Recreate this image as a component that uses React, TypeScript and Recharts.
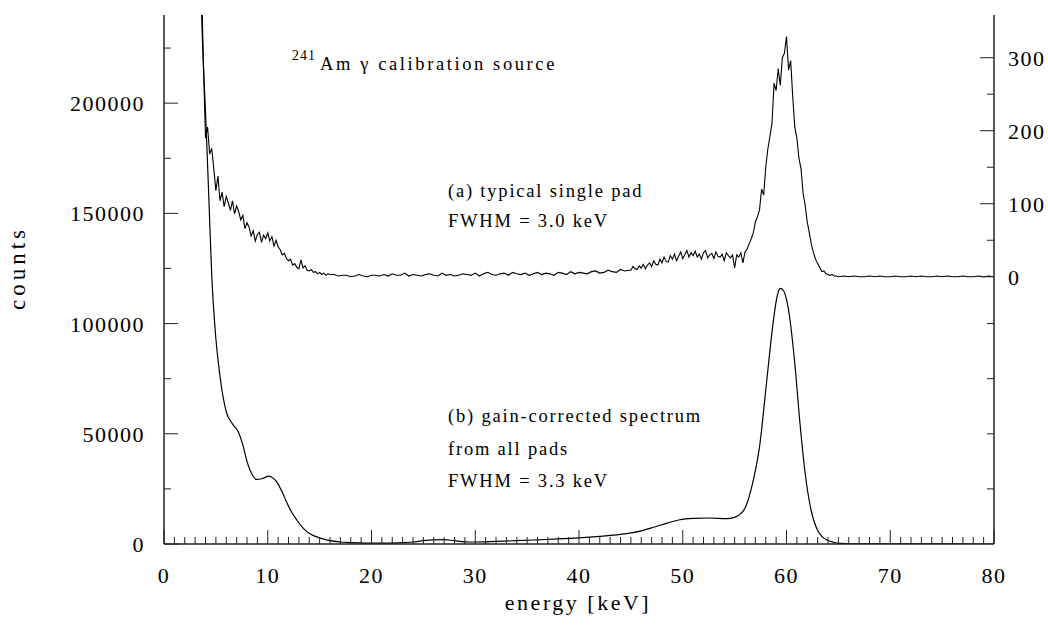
import { LineChart, Line, XAxis, YAxis } from "recharts";

const SERIF = '"Liberation Serif", "Times New Roman", serif';

// (a) typical single pad, right axis (counts per channel)
const padStart1 = 3.6;
const padStep1 = 0.2;
const padCounts1 = [
  420, 290, 190, 205, 168, 176, 148, 118, 138, 104,
  116, 96, 110, 101, 91, 104, 86, 97, 89, 78,
  84, 66, 74, 68, 56, 63, 49, 58, 61, 47,
  57, 52, 60, 49, 55, 42, 50, 41, 37, 30,
  32, 25, 22, 24, 16, 18, 13, 11, 23, 12,
  15, 9, 8, 10, 6, 7, 4, 6, 3, 5,
  2, 4, 3,
];
const padStart2 = 16.4;
const padStep2 = 0.4;
const padCounts2 = [
  3, 1, 2, 2, 0, 1, 3, 1, 0, 2,
  2, 1, 3, 1, 4, 2, 2, 5, 1, 3,
  2, 1, 3, 4, 2, 1, 5, 2, 3, 1,
  2, 4, 3, 2, 5, 1, 4, 6, 3, 2,
  4, 5, 2, 6, 4, 3, 5, 2, 4, 6,
  3, 5, 4, 2, 6, 5, 3, 7, 4, 6,
  5, 4, 7, 8, 5, 6, 9, 7, 6, 10,
  8, 9,
];
const padStart3 = 45.0;
const padStep3 = 0.2;
const padCounts3 = [
  9, 14, 11, 10, 15, 12, 17, 11, 16, 19,
  14, 22, 17, 16, 24, 19, 27, 21, 20, 29,
  24, 31, 22, 28, 34, 25, 30, 36, 27, 33,
  29, 35, 27, 31, 24, 33, 36, 26, 30, 32,
  25, 34, 28, 27, 31, 22, 33, 29, 26, 30,
  12, 30, 27, 33, 19, 34, 38, 45, 52, 60,
  75, 82, 92, 120, 112, 150, 175, 192, 210, 265,
  255, 285, 262, 300, 306, 329, 283, 296, 247, 205,
  190, 162, 148, 114, 98, 75, 60, 44, 33, 24,
  18, 13, 7, 8, 4, 3, 2, 3, 1, 1,
  0,
];
const padStart4 = 65.5;
const padStep4 = 0.5;
const padCounts4 = [
  1, 0, 1, 0, 0, 1, 0, 1, 0, 0,
  1, 0, 0, 1, 0, 1, 0, 0, 1, 0,
  1, 0, 0, 1, 0, 0, 1, 0, 1, 0,
];

// (b) gain-corrected spectrum from all pads, left axis
const sumEnergy = [
  3.3, 3.6, 4.0, 4.3, 4.6, 4.9, 5.4, 6.0, 6.6, 7.2,
  7.6, 8.0, 8.5, 8.9, 9.5, 10.1, 10.5, 10.9, 11.4, 11.8,
  12.3, 12.8, 13.3, 13.8, 14.4, 15.0, 16.0, 17.0, 18.0, 19.5,
  21.0, 22.5, 24.0, 25.0, 26.0, 27.0, 28.0, 29.0, 30.0, 32.0,
  34.0, 36.0, 38.0, 40.0, 42.0, 44.0, 45.2, 46.2, 47.2, 48.5,
  49.7, 51.0, 52.6, 54.2, 55.0, 55.6, 56.0, 56.4, 56.8, 57.4,
  58.1, 58.7, 59.1, 59.4, 59.7, 60.0, 60.3, 60.8, 61.3, 61.8,
  62.3, 62.9, 63.4, 63.9, 64.5, 65.2, 66.5, 70.0, 80.0,
];
const sumCounts = [
  320000, 245000, 196000, 160000, 122000, 99000, 76000, 60000, 54500, 50500,
  45000, 37500, 31500, 29300, 29700, 30800, 30000, 28000, 23500, 19200,
  14500, 10900, 7800, 5500, 3800, 2800, 1500, 900, 600, 400,
  400, 500, 900, 1500, 1900, 2000, 1500, 1000, 900, 1200,
  1500, 1900, 2300, 2800, 3500, 4400, 5200, 6200, 7600, 9500,
  11000, 11600, 11800, 11500, 12100, 13800, 16200, 21500, 29000, 44100,
  74300, 100000, 112500, 116000, 115000, 111000, 103000, 81900, 54700, 32000,
  16900, 7100, 3500, 1800, 800, 300, 100, 50, 0,
];

const energyTicks = Array.from({ length: 81 }, (_, i) => i);
const leftTicks = [0, 25000, 50000, 75000, 100000, 125000, 150000, 175000, 200000, 225000];
const padTicks = [0, 50, 100, 150, 200, 250, 300];
// left-axis minor ticks repeated on the right frame below the pad baseline
const mirrorTicks = [25000, 50000, 75000, 100000];

const LEFT_DOMAIN: [number, number] = [0, 240000];
const RIGHT_DOMAIN: [number, number] = [-366, 358.5];

const rightTicks = [
  ...mirrorTicks.map(
    (t) => RIGHT_DOMAIN[0] + (t / LEFT_DOMAIN[1]) * (RIGHT_DOMAIN[1] - RIGHT_DOMAIN[0])
  ),
  ...padTicks,
];

const channels = (start: number, step: number, counts: number[]) =>
  counts.map((v, i) => ({ e: +(start + i * step).toFixed(2), v }));

const padData = [
  ...channels(padStart1, padStep1, padCounts1),
  ...channels(padStart2, padStep2, padCounts2),
  ...channels(padStart3, padStep3, padCounts3),
  ...channels(padStart4, padStep4, padCounts4),
];
const sumData = sumEnergy.map((e, i) => ({ e, v: sumCounts[i] }));

const INK = "#000";
const AXIS = "#222";
const labelStyle = { fontFamily: SERIF, fontSize: 22, fill: INK, letterSpacing: 1.5 };

const BottomTick = ({ x, y, payload }: any) => {
  const major = payload.value % 10 === 0;
  return (
    <g>
      <line x1={x} x2={x} y1={y} y2={y - (major ? 14 : 7)} stroke={AXIS} />
      {major && (
        <text x={x} y={y + 39} textAnchor="middle" {...labelStyle}>
          {payload.value}
        </text>
      )}
    </g>
  );
};

const TopTick = ({ x, y, payload }: any) => {
  const major = payload.value % 10 === 0;
  return <line x1={x} x2={x} y1={y} y2={y + (major ? 14 : 7)} stroke={AXIS} />;
};

const LeftTick = ({ x, y, payload }: any) => {
  const major = payload.value % 50000 === 0;
  return (
    <g>
      <line x1={x} x2={x + (major ? 14 : 7)} y1={y} y2={y} stroke={AXIS} />
      {major && (
        <text x={x - 19} y={y + 8} textAnchor="end" {...labelStyle}>
          {payload.value}
        </text>
      )}
    </g>
  );
};

const RightTick = ({ x, y, payload }: any) => {
  if (payload.value < 0) {
    return <line x1={x} x2={x - 7} y1={y} y2={y} stroke={AXIS} />;
  }
  const major = payload.value % 100 === 0;
  return (
    <g>
      <line x1={x} x2={x - (major ? 14 : 7)} y1={y} y2={y} stroke={AXIS} />
      {major && (
        <text x={x + 14} y={y + 8} textAnchor="start" {...labelStyle}>
          {payload.value}
        </text>
      )}
    </g>
  );
};

const noteStyle = { fontFamily: SERIF, fontSize: 18.5, fill: INK, letterSpacing: 1.8 };

export default function App() {
  return (
    <div style={{ position: "absolute", left: 0, top: 0, width: 1048, height: 630, background: "#fff" }}>
      <LineChart width={1048} height={630} margin={{ top: 15, right: 4, bottom: 46, left: 84 }}>
        <XAxis
          xAxisId="b"
          dataKey="e"
          type="number"
          domain={[0, 80]}
          allowDataOverflow
          ticks={energyTicks}
          interval={0}
          height={40}
          tickSize={0}
          tickMargin={0}
          tickLine={false}
          tick={<BottomTick />}
          axisLine={{ stroke: AXIS, strokeWidth: 1.5 }}
        />
        <XAxis
          xAxisId="t"
          orientation="top"
          type="number"
          domain={[0, 80]}
          allowDataOverflow
          ticks={energyTicks}
          interval={0}
          height={0}
          tickSize={0}
          tickMargin={0}
          tickLine={false}
          tick={<TopTick />}
          axisLine={{ stroke: AXIS, strokeWidth: 1.5 }}
        />
        <YAxis
          yAxisId="left"
          type="number"
          domain={LEFT_DOMAIN}
          allowDataOverflow
          ticks={leftTicks}
          interval={0}
          width={80}
          tickSize={0}
          tickMargin={0}
          tickLine={false}
          tick={<LeftTick />}
          axisLine={{ stroke: AXIS, strokeWidth: 1.5 }}
        />
        <YAxis
          yAxisId="right"
          orientation="right"
          type="number"
          domain={RIGHT_DOMAIN}
          allowDataOverflow
          ticks={rightTicks}
          interval={0}
          width={50}
          tickSize={0}
          tickMargin={0}
          tickLine={false}
          tick={<RightTick />}
          axisLine={{ stroke: AXIS, strokeWidth: 1.5 }}
        />
        <Line
          data={sumData}
          dataKey="v"
          xAxisId="b"
          yAxisId="left"
          type="monotone"
          dot={false}
          stroke={INK}
          strokeWidth={1.2}
          isAnimationActive={false}
        />
        <Line
          data={padData}
          dataKey="v"
          xAxisId="b"
          yAxisId="right"
          type="linear"
          dot={false}
          stroke={INK}
          strokeWidth={1.1}
          isAnimationActive={false}
        />
      </LineChart>
      <svg width={1048} height={630} style={{ position: "absolute", left: 0, top: 0, pointerEvents: "none" }}>
        <text x={292} y={60} fontFamily={SERIF} fontSize={14} letterSpacing={1}>241</text>
        <text x={320} y={70} fontFamily={SERIF} fontSize={18.5} letterSpacing={2.6}>Am γ calibration source</text>
        <text x={448} y={197} {...noteStyle}>(a) typical single pad</text>
        <text x={448} y={227} {...noteStyle}>FWHM = 3.0 keV</text>
        <text x={448} y={422} {...noteStyle}>(b) gain-corrected spectrum</text>
        <text x={448} y={455} {...noteStyle}>from all pads</text>
        <text x={448} y={487} {...noteStyle}>FWHM = 3.3 keV</text>
        <text
          transform="translate(25 268) rotate(-90)"
          textAnchor="middle"
          fontFamily={SERIF}
          fontSize={23}
          letterSpacing={4}
        >
          counts
        </text>
        <text x={578} y={610} textAnchor="middle" fontFamily={SERIF} fontSize={22} letterSpacing={2.5}>
          energy [keV]
        </text>
      </svg>
    </div>
  );
}
